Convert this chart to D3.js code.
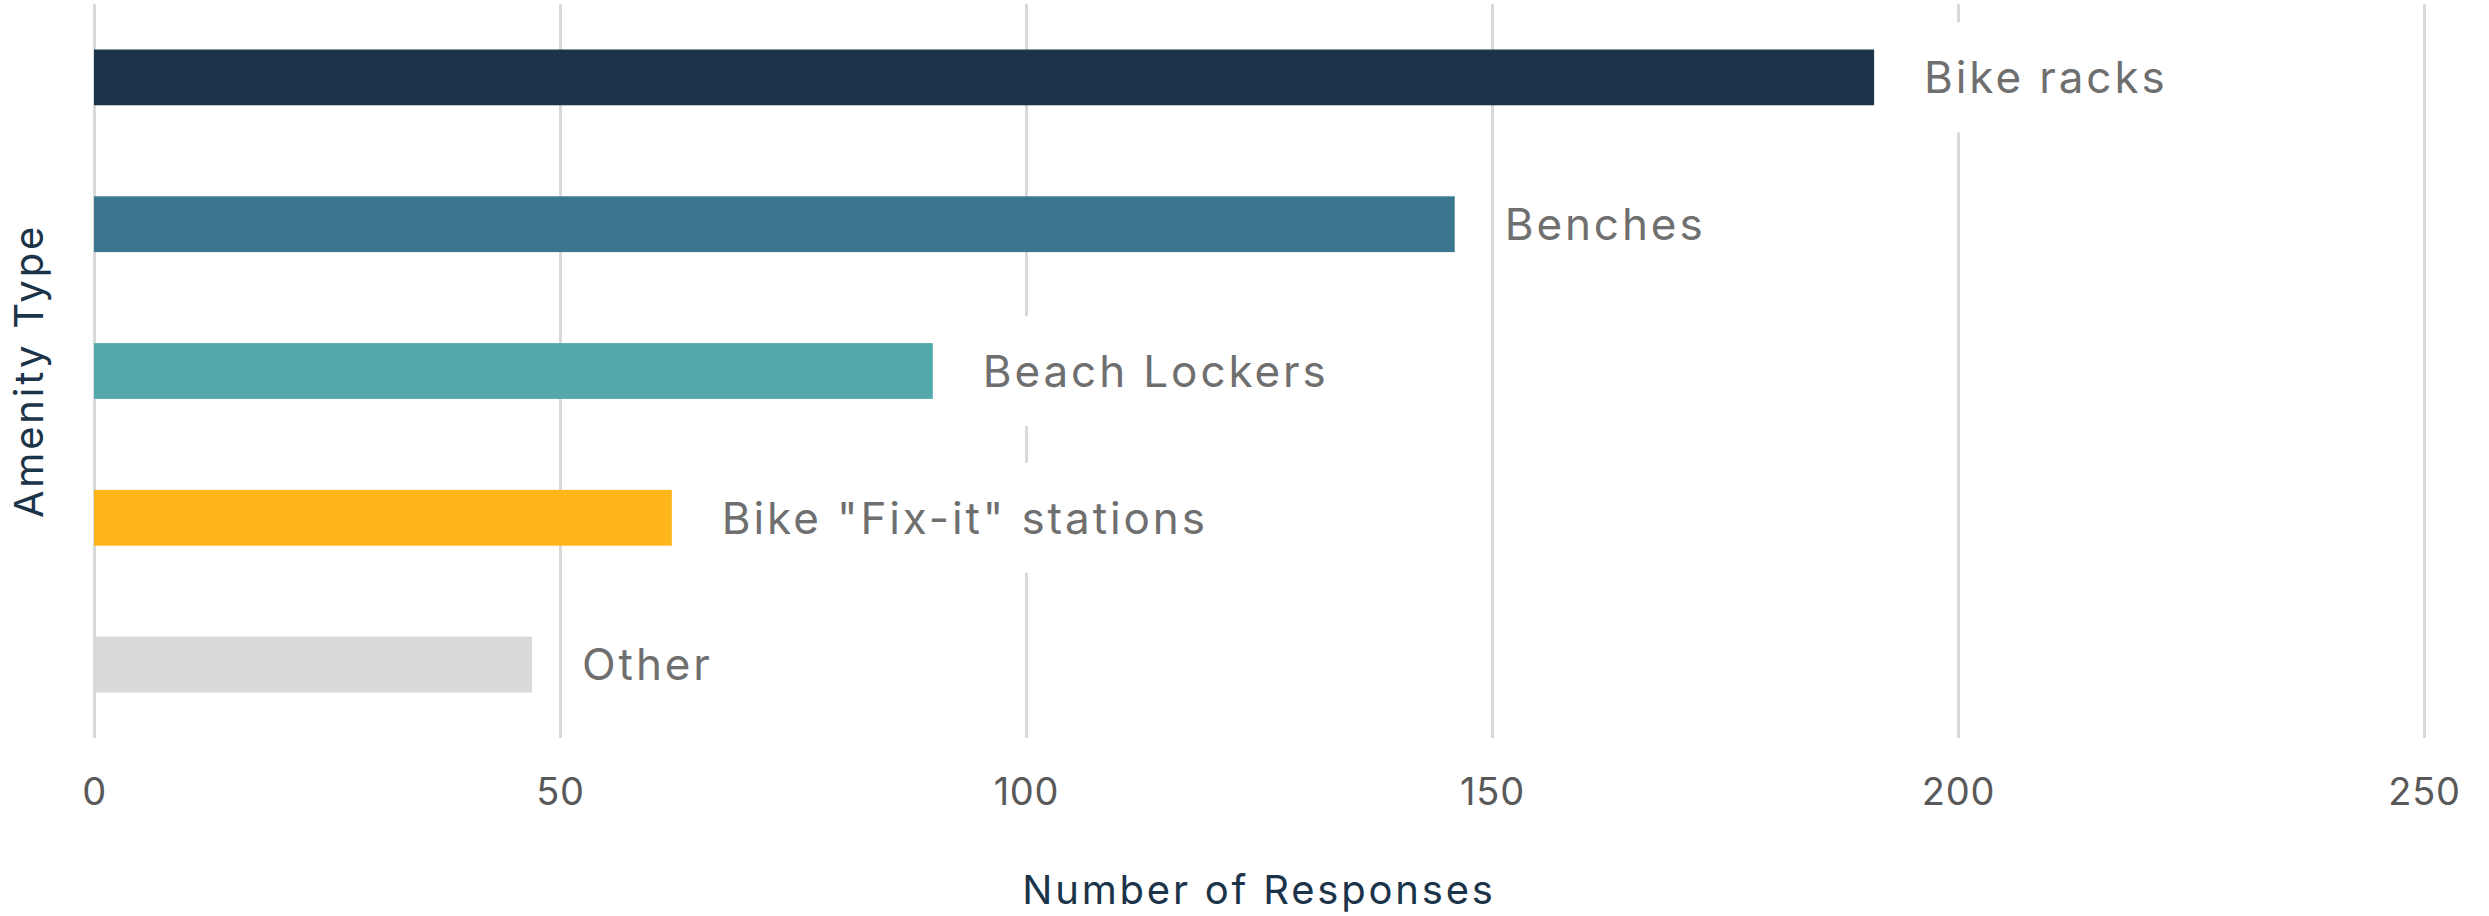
<!DOCTYPE html>
<html>
<head>
<meta charset="utf-8">
<script src="https://cdn.jsdelivr.net/npm/d3@7"></script>
<style>
  body { margin: 0; background: #fff; }
  text { font-family: Inter, "Open Sans", sans-serif; }
</style>
</head>
<body>
<div id="chart"></div>
<script>
const width = 2489
const height = 916
const margin = { top: 4, bottom: 178, right: 65, left: 94 }

// data
const amenities = ["Bike racks", "Benches", "Beach Lockers", "Bike \"Fix-it\" stations", "Other"]
const responses = [191, 146, 90, 62, 47]
const barColors = ["#1b3449", "#3b768f", "#53a8ac", "#ffb61a", "#d9d9d9"]
const xTicks = [0, 50, 100, 150, 200, 250]

const innerW = width - margin.left - margin.right
const innerH = height - margin.top - margin.bottom

const svg = d3.select("div#chart").append("svg").attr("width", width).attr("height", height)

const elementGroup = svg.append("g").attr("class", "elementGroup")
    .attr("transform", `translate(${margin.left}, ${margin.top})`)

const x = d3.scaleLinear().domain([0, 250]).range([0, innerW])
const y = d3.scaleBand().domain(amenities).range([0, innerH])
    .paddingInner(0.62).paddingOuter(0.31)

// x axis with grid lines
const xAxis = d3.axisBottom(x).tickValues(xTicks).tickSize(-innerH).tickFormat(d3.format("d"))
const xAxisGroup = elementGroup.append("g").attr("class", "xAxisGroup")
    .attr("transform", `translate(0, ${innerH})`)
    .call(xAxis)
xAxisGroup.select(".domain").remove()
xAxisGroup.selectAll(".tick line").attr("stroke", "#d9d9d9").attr("stroke-width", 3)
xAxisGroup.selectAll(".tick text")
    .attr("y", 54).attr("dy", "0.35em")
    .attr("fill", "#595959")
    .style("font-size", "38px")
    .style("letter-spacing", "0.02em")

const data = amenities.map((name, i) => ({ name, value: responses[i], color: barColors[i] }))

elementGroup.selectAll("rect.bar").data(data)
    .enter().append("rect")
    .attr("class", "bar")
    .attr("x", 0)
    .attr("y", d => y(d.name))
    .attr("width", d => x(d.value))
    .attr("height", y.bandwidth())
    .attr("fill", d => d.color)

// labels sit on a white box that cuts the grid lines
const labels = elementGroup.selectAll("g.label").data(data)
    .enter().append("g")
    .attr("class", "label")
    .attr("transform", d => `translate(${x(d.value) + 50}, ${y(d.name) + y.bandwidth() / 2})`)

labels.append("rect").attr("fill", "#fff")
labels.append("text")
    .attr("dy", "0.36em")
    .attr("fill", "#6f6f6f")
    .style("font-size", "44px")
    .style("letter-spacing", "0.066em")
    .text(d => d.name)

labels.each(function() {
    const g = d3.select(this)
    const w = g.select("text").node().getComputedTextLength()
    g.select("rect").attr("x", -6).attr("y", -55).attr("width", w + 12).attr("height", 110)
})

// axis titles
svg.append("text")
    .attr("x", margin.left + innerW / 2)
    .attr("y", 890)
    .attr("dy", "0.35em")
    .attr("text-anchor", "middle")
    .attr("fill", "#1b3449")
    .style("font-size", "40px")
    .style("letter-spacing", "0.07em")
    .text("Number of Responses")

svg.append("text")
    .attr("transform", `translate(29, ${margin.top + innerH / 2}) rotate(-90)`)
    .attr("dy", "0.35em")
    .attr("text-anchor", "middle")
    .attr("fill", "#1b3449")
    .style("font-size", "40px")
    .style("letter-spacing", "0.07em")
    .text("Amenity Type")
</script>
</body>
</html>
